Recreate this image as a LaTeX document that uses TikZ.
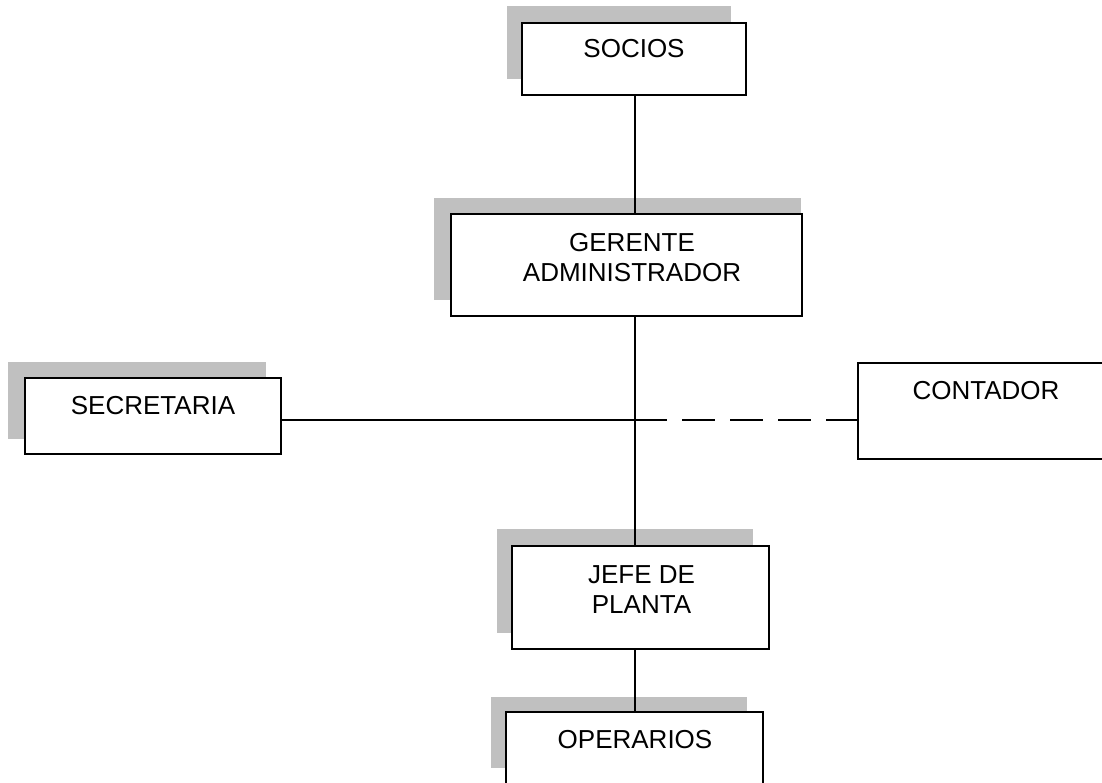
\documentclass[tikz,border=0pt]{standalone}
\usepackage{fontspec}
\setmainfont{Liberation Sans}
\definecolor{shadowgray}{RGB}{192,192,192}
\tikzset{
  box/.style={draw=black, line width=1.8pt, fill=white, rectangle, inner sep=0pt},
  boxshadow/.style={fill=shadowgray, draw=none},
  lbl/.style={font=\fontsize{26}{29.5}\selectfont, align=center, anchor=base, inner sep=0pt},
  link/.style={draw=black, line width=1.8pt},
  dashlink/.style={draw=black, line width=1.8pt, dash pattern=on 33pt off 15pt, dash phase=1pt}
}
\begin{document}
\begin{tikzpicture}[x=1pt, y=-1pt]
\useasboundingbox (0,0) rectangle (1102,782);
\clip (0,0) rectangle (1102,782);
% shadows
\fill[boxshadow] (507,6) rectangle (731,79);
\fill[boxshadow] (434,198) rectangle (801,300);
\fill[boxshadow] (8,362) rectangle (266,439);
\fill[boxshadow] (497,529) rectangle (753,633);
\fill[boxshadow] (491,697) rectangle (747,768);
% boxes
\node[box, minimum width=224pt, minimum height=72pt] (socios) at (634,59) {};
\node[box, minimum width=351pt, minimum height=102pt] (gerente) at (626.5,265) {};
\node[box, minimum width=256pt, minimum height=76pt] (secretaria) at (153,416) {};
\node[box, minimum width=262pt, minimum height=96pt] (contador) at (989,411) {};
\node[box, minimum width=257pt, minimum height=103pt] (jefe) at (640.5,597.5) {};
\node[box, minimum width=257pt, minimum height=110pt] (operarios) at (634.5,767) {};
% texts
\node[lbl] (socios-t) at (634,57) {SOCIOS};
\node[lbl] (gerente-t) at (632,281) {GERENTE\\ADMINISTRADOR};
\node[lbl] (secretaria-t) at (153,414) {SECRETARIA};
\node[lbl] (contador-t) at (986,399) {CONTADOR};
\node[lbl] (jefe-t) at (641.5,613) {JEFE DE\\PLANTA};
\node[lbl] (operarios-t) at (635,748) {OPERARIOS};
% connectors
\coordinate (trunk) at (635,420);
\draw[link] (socios.south -| trunk) -- (gerente.north -| trunk);
\draw[link] (gerente.south -| trunk) -- (jefe.north -| trunk);
\draw[link] (secretaria.east |- trunk) -- (trunk);
\draw[dashlink] (trunk) -- (contador.west |- trunk);
\draw[link] (jefe.south -| trunk) -- (operarios.north -| trunk);
\end{tikzpicture}
\end{document}
